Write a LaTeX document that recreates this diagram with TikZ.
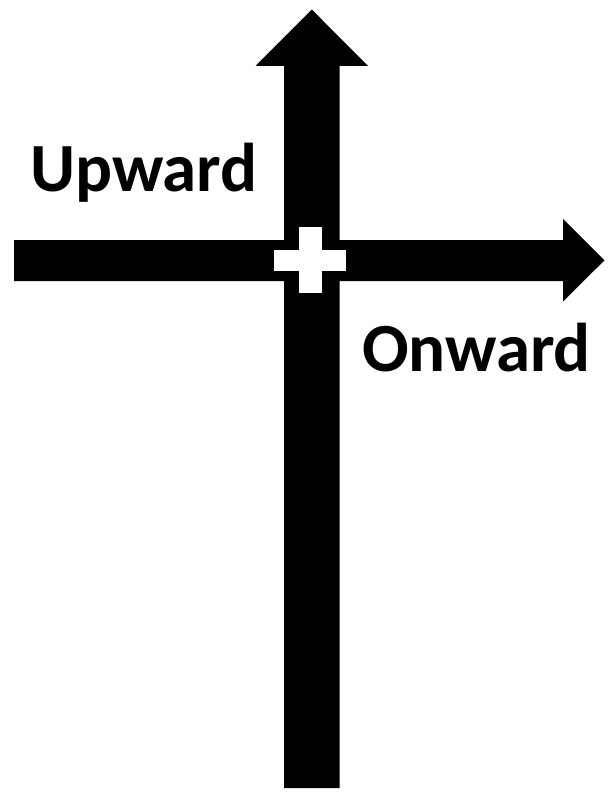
\documentclass[tikz,border=0pt]{standalone}
\usepackage{fontspec}
\setmainfont{Carlito}
\usepackage{tikz}
\usetikzlibrary{positioning}

\tikzset{
    label text/.style={font=\bfseries\fontsize{69}{80}\selectfont, inner sep=0pt},
}

\begin{document}
\begin{tikzpicture}[x=1pt, y=-1pt]
    \useasboundingbox (0,0) rectangle (613,792);

    % Vertical arrow
    \fill[black] (284,788) -- (284,66) -- (255.5,66) -- (311.8,9.5) -- (368,66)
        -- (339.5,66) -- (339.5,788) -- cycle;

    % Horizontal arrow
    \fill[black] (14,240) -- (563,240) -- (563,219) -- (604.5,260.3) -- (563,301.5)
        -- (563,281) -- (14,281) -- cycle;

    % White cross at the crossing
    \fill[white] (299.3,226.7) rectangle (321.7,293.3);
    \fill[white] (274,250) rectangle (346,270.7);

    % Labels
    \node[label text, anchor=base west] (upward) at (30,191) {Upward};
    \node[label text, anchor=base west] (onward) at (362,371) {Onward};
\end{tikzpicture}
\end{document}
